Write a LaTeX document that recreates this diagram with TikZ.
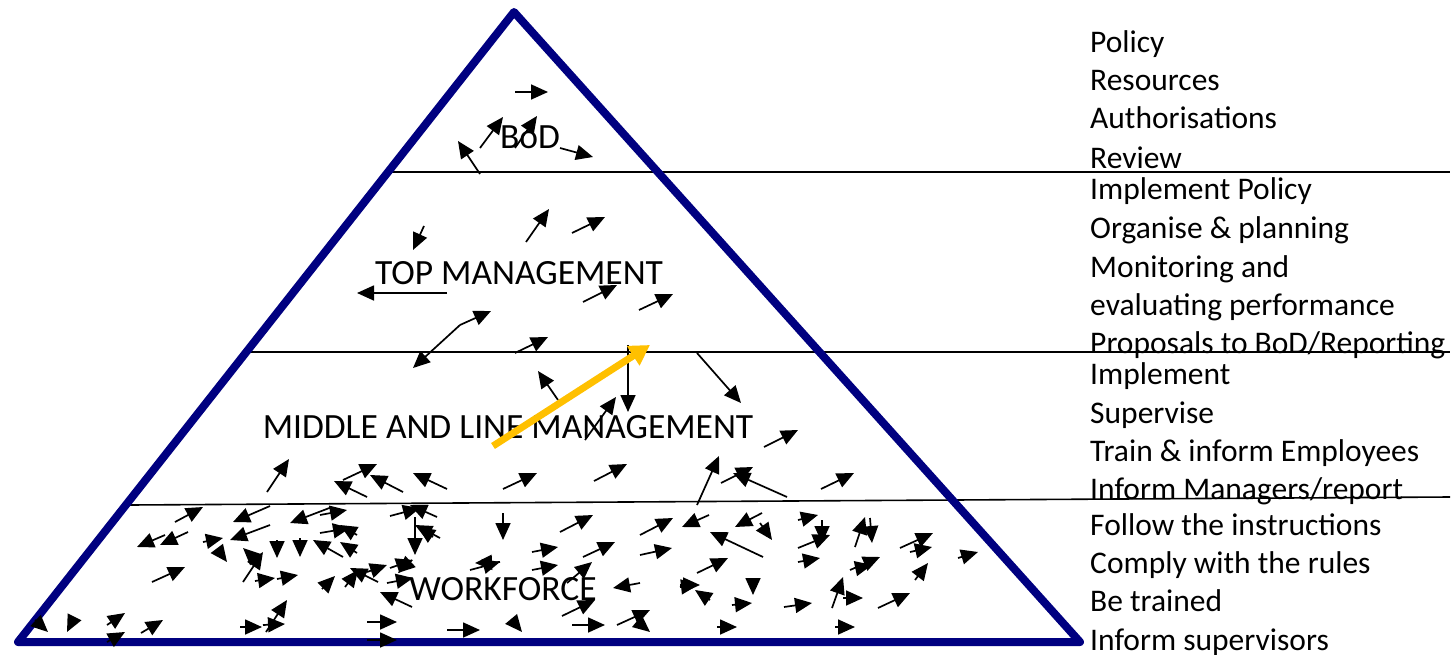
\documentclass[tikz,border=0pt]{standalone}
\usepackage{fontspec}
\setmainfont{Carlito}
\usetikzlibrary{arrows.meta}
\definecolor{pyr}{RGB}{0,0,128}
\definecolor{gold}{RGB}{255,192,0}
\tikzset{
  arr/.style={line width=1.7pt,-{Triangle[length=17pt,width=15pt]}},
  sep/.style={line width=1.6pt},
  txt/.style={anchor=base west,inner sep=0pt,font=\fontsize{31.5}{36}\selectfont},
  lbl/.style={inner sep=0pt,font=\fontsize{35.5}{40}\selectfont}
}
\begin{document}
\begin{tikzpicture}[x=1pt,y=-1pt]
\useasboundingbox (0,0) rectangle (1455,655);
% separators
\draw[sep] (390,172) -- (1450,172);
\draw[sep] (248,352) -- (1450,352);
\draw[sep] (130,505) -- (1450,497);
% pyramid
\draw[pyr,line width=8pt,line join=round] (514,12) -- (1080,642) -- (18,642) -- cycle;
% labels
\node[lbl] (bod) at (530,137) {BoD};
\node[lbl] (top) at (519,273) {TOP MANAGEMENT};
\node[lbl] (mid) at (508,427) {MIDDLE AND LINE MANAGEMENT};
\node[lbl] (wf) at (503,589) {WORKFORCE};
% right text
\foreach \t/\y [count=\i] in {{Policy}/43,{Resources}/81,{Authorisations}/119,{Review}/158,{Implement Policy}/190,{Organise \& planning}/228,{Monitoring and}/267,{evaluating performance}/305,{Proposals to BoD/Reporting}/343,{Implement}/374,{Supervise}/413,{Train \& inform Employees}/451,{Inform Managers/report}/489,{Follow the instructions}/525,{Comply with the rules}/563,{Be trained}/601,{Inform supervisors}/640}
  \node[txt] (r\i) at (1090,\y+10) {\t};
% arrows
\foreach \ax/\ay/\bx/\by in {
 515/92/548/92, 480/148/503/117, 515/148/537/116, 560/148/593/157, 480/174/458/141,
 424/226/413/250, 526/242/549/209, 572/233/605/217, 447/293/357/293, 583/302/617/285,
 639/310/673/294, 460/325/491/311, 460/325/413/368, 515/353/548/337,
 558/400/538/371, 628/345/628/412, 585/440/616/397, 267/492/289/459, 343/480/377/464,
 367/497/334/481, 403/492/370/475, 447/489/413/473, 503/489/537/473, 594/481/627/464,
 697/353/741/403, 764/447/798/430, 697/505/719/456, 721/483/753/467, 787/497/733/473,
 821/489/854/473,
 175/522/203/507, 270/506/233/522, 332/507/290/523, 320/515/347/510, 390/516/420/508,
 437/517/410/505, 188/532/160/545, 165/535/137/547, 203/542/223/538, 270/525/230/540,
 320/533/350/528, 357/535/340/525, 218/550/227/562, 258/562/243/548, 277/540/277/558,
 300/538/300/557, 343/557/313/540, 357/553/340/542, 415/517/415/555, 440/538/415/525,
 243/582/263/552, 152/582/185/567, 255/581/275/578, 277/579/298/575, 322/589/335/576,
 345/587/358/570, 378/582/350/568, 367/572/387/565, 390/568/413/560, 387/583/413/578,
 412/607/380/592, 412/560/398/573, 266/632/287/600, 263/625/285/624, 240/627/262/627,
 141/633/163/620, 367/622/397/622, 367/640/397/640,
 35/620/48/632, 73/620/67/632, 107/625/125/613, 107/642/125/632,
 433/537/418/527, 503/513/503/540, 560/532/593/515, 640/535/673/518,
 532/552/558/547, 583/557/615/542, 640/555/672/548, 470/570/500/562, 500/562/475/563,
 532/570/558/565, 567/583/592/562, 640/583/613/588, 680/587/698/585, 562/616/595/600,
 447/630/480/630, 512/620/522/632, 572/625/605/625, 617/625/650/610, 638/622/650/632,
 709/515/682/527, 762/513/735/527, 760/523/772/540, 763/557/710/532, 798/520/818/515,
 822/520/822/543, 798/548/830/535, 855/547/865/517, 870/518/872/543, 900/548/933/533,
 910/552/932/547, 958/558/978/552, 697/573/728/558, 798/562/820/558, 850/570/880/557,
 858/568/872/565, 915/580/928/563, 680/585/700/585, 710/600/695/590, 753/582/753/595,
 732/605/752/603, 784/607/812/603, 832/608/843/577, 843/598/863/598, 878/608/910/593,
 717/627/737/627, 835/627/855/627}
 \draw[arr] (\ax,\ay) -- (\bx,\by);
% yellow arrow
\draw[gold,line width=7pt,-{Triangle[length=20pt,width=22pt]}] (493,446) -- (650,345);
\end{tikzpicture}
\end{document}
